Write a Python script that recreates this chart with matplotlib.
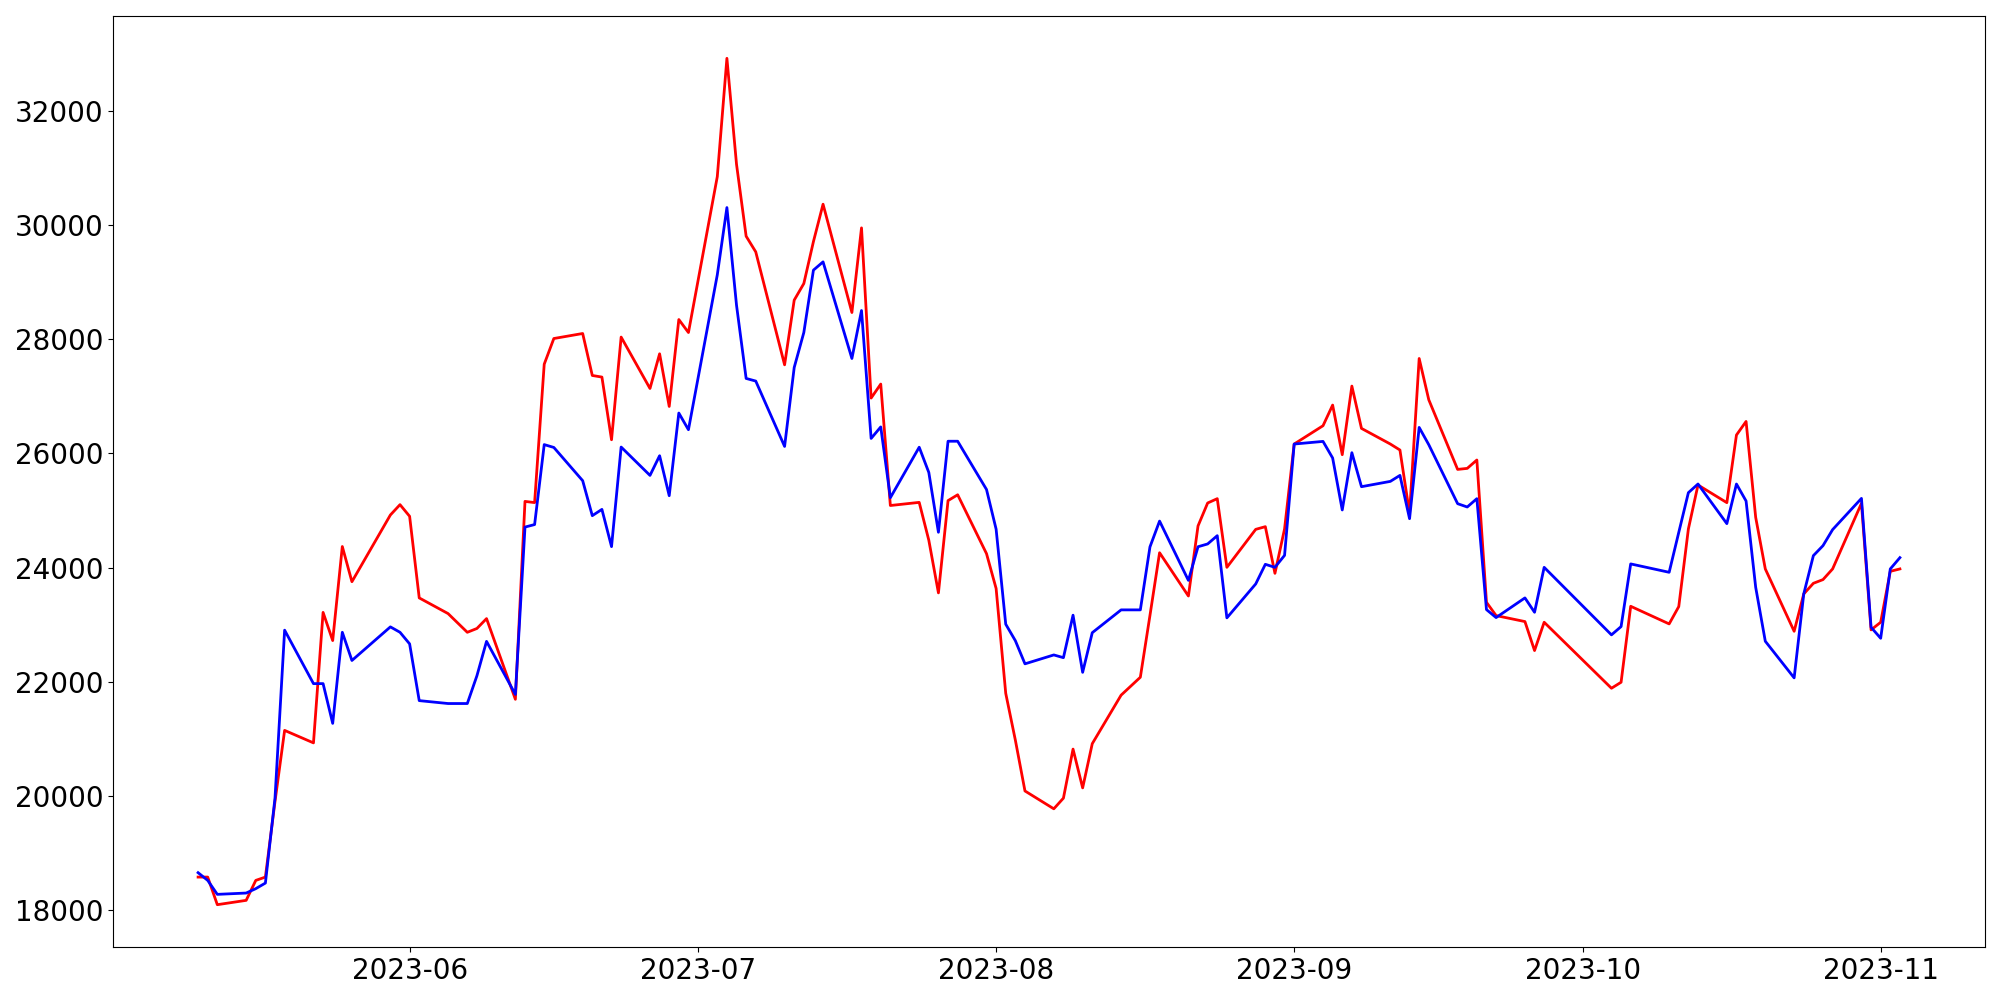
import pandas as pd
import matplotlib
matplotlib.use("Agg")
import matplotlib.pyplot as plt
import matplotlib.dates as mdates

# trading days (KRX calendar, holidays dropped)
start_date = "2023-05-10"
end_date = "2023-11-03"
holidays = ["2023-05-29", "2023-06-06", "2023-08-15", "2023-09-28",
            "2023-09-29", "2023-10-02", "2023-10-03", "2023-10-09"]

# red series, by month
red_may = [18573, 18573, 18089, 18165, 18515, 18573, 19900, 21145, 20926, 23214,
           22720, 24369, 23752, 24922, 25103]
red_jun = [24899, 23468, 23193, 22865, 22932, 23105, 21690, 25160, 25139, 27566,
           28016, 28104, 27368, 27340, 26241, 28041, 27140, 27748, 26825, 28349, 28121]
red_jul = [30854, 32929, 31071, 29810, 29535, 27555, 28689, 28980, 29716, 30371,
           28472, 29956, 26972, 27217, 25088, 25143, 24479, 23556, 25174, 25276, 24244]
red_aug = [23633, 21795, 20975, 20083, 19770, 19957, 20817, 20137, 20912, 21763,
           22077, 23160, 24260, 23501, 24730, 25132, 25208, 24004, 24670, 24717,
           23899, 24677]
red_sep = [26166, 26487, 26849, 25979, 27182, 26440, 26166, 26061, 24950, 27666,
           26942, 25721, 25739, 25886, 23391, 23158, 23053, 22545, 23041]
red_oct = [21884, 21989, 23321, 23012, 23316, 24677, 25448, 25138, 26324, 26562,
           24880, 23976, 22883, 23538, 23724, 23789, 23976, 25126, 22907]
red_nov = [23041, 23934, 23976]

# blue series, by month
blue_may = [18650, 18515, 18270, 18293, 18370, 18468, 19960, 22902, 21965, 21965,
            21268, 22865, 22371, 22960, 22865]
blue_jun = [22662, 21667, 21616, 21616, 22103, 22706, 21776, 24710, 24754, 26156,
            26106, 25523, 24910, 25020, 24367, 26113, 25616, 25961, 25260, 26709, 26417]
blue_jul = [29132, 30312, 28600, 27316, 27270, 26124, 27508, 28121, 29215, 29360,
            27666, 28507, 26264, 26466, 25225, 26110, 25667, 24619, 26215, 26215, 25369]
blue_aug = [24673, 23007, 22718, 22312, 22468, 22420, 23165, 22163, 22858, 23258,
            23258, 24362, 24815, 23775, 24365, 24414, 24559, 23118, 23713, 24057,
            24004, 24214]
blue_sep = [26166, 26212, 25921, 25010, 26014, 25418, 25511, 25616, 24857, 26457,
            26154, 25120, 25062, 25208, 23263, 23123, 23468, 23216, 24004]
blue_oct = [22820, 22965, 24064, 23917, 24617, 25313, 25465, 24770, 25465, 25167,
            23654, 22708, 22066, 23538, 24209, 24384, 24665, 25213, 22953]
blue_nov = [22760, 23976, 24174]

dates = pd.bdate_range(start_date, end_date, freq="C", holidays=holidays)
red = red_may + red_jun + red_jul + red_aug + red_sep + red_oct + red_nov
blue = blue_may + blue_jun + blue_jul + blue_aug + blue_sep + blue_oct + blue_nov

df = pd.DataFrame({"red": red, "blue": blue}, index=dates)

fig, ax = plt.subplots(figsize=(20, 10), dpi=100)
ax.plot(df.index, df["red"], color="red", linewidth=2)
ax.plot(df.index, df["blue"], color="blue", linewidth=2)

ax.xaxis.set_major_locator(mdates.MonthLocator())
ax.xaxis.set_major_formatter(mdates.DateFormatter("%Y-%m"))
ax.tick_params(axis="both", labelsize=20)

plt.subplots_adjust(left=0.0565, right=0.9925, top=0.984, bottom=0.053)
plt.savefig("out.png")
